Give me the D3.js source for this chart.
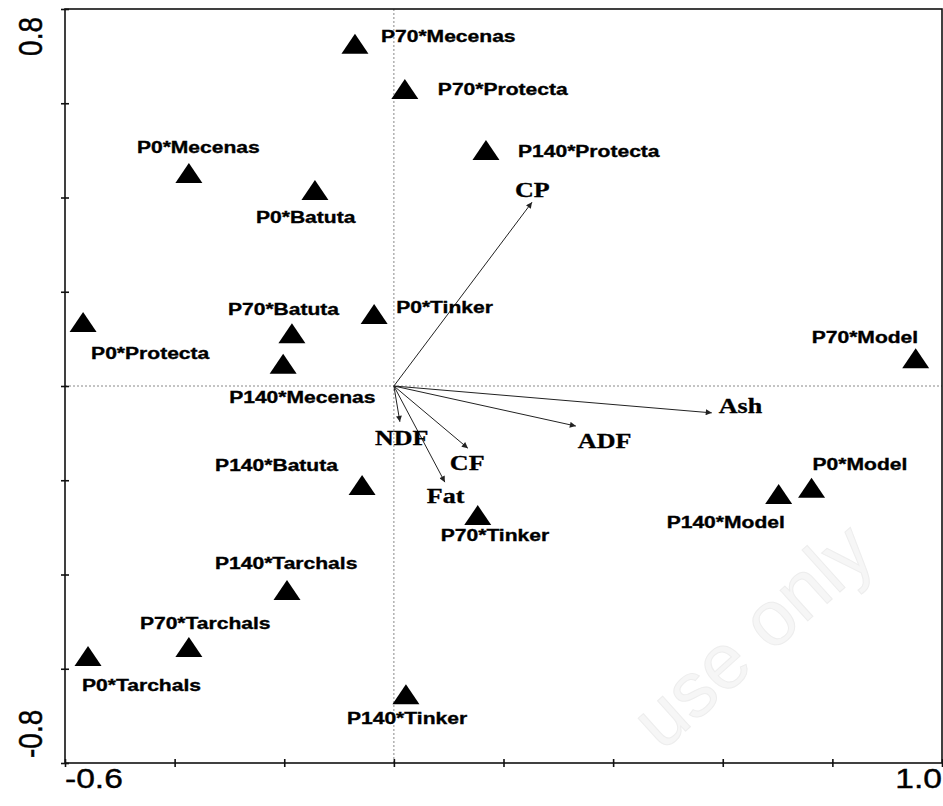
<!DOCTYPE html>
<html>
<head>
<meta charset="utf-8">
<script src="https://cdn.jsdelivr.net/npm/d3@7"></script>
<style>
  body { margin: 0; background: #fff; }
  svg { display: block; }
  .pt-label { font-family: "Liberation Sans", Arial, sans-serif; font-weight: bold; font-size: 17px; fill: #000; stroke: #000; stroke-width: 0.35px; }
  .var-label { font-family: "Liberation Serif", "Times New Roman", serif; font-weight: bold; font-size: 21px; fill: #000; stroke: #000; stroke-width: 0.3px; }
  .tick-label { font-family: "Liberation Sans", Arial, sans-serif; font-size: 28px; fill: #000; stroke: #000; stroke-width: 0.4px; }
</style>
</head>
<body>
<svg width="943" height="806"></svg>
<script>
// treatment scores (axis 1, axis 2)
var treatments = ["P70*Mecenas", "P70*Protecta", "P140*Protecta", "P0*Mecenas", "P0*Batuta",
  "P70*Batuta", "P0*Tinker", "P0*Protecta", "P140*Mecenas", "P70*Model", "P0*Model",
  "P140*Model", "P140*Batuta", "P70*Tinker", "P140*Tarchals", "P70*Tarchals",
  "P0*Tarchals", "P140*Tinker"];
var axis1 = [-0.071, 0.020, 0.168, -0.374, -0.144, -0.186, -0.036, -0.567, -0.202, 0.952,
  0.762, 0.702, -0.058, 0.153, -0.195, -0.374, -0.558, 0.022];
var axis2 = [0.726, 0.630, 0.501, 0.452, 0.416, 0.112, 0.153, 0.136, 0.047, 0.059,
  -0.216, -0.229, -0.210, -0.274, -0.433, -0.554, -0.573, -0.654];

// variable vectors
var variables = ["CP", "Ash", "ADF", "NDF", "CF", "Fat"];
var varX = [0.252, 0.580, 0.332, 0.011, 0.135, 0.093];
var varY = [0.390, -0.057, -0.085, -0.076, -0.132, -0.204];

var xTicks = [-0.6, -0.4, -0.2, 0, 0.2, 0.4, 0.6, 0.8, 1.0];
var yTicks = [-0.8, -0.6, -0.4, -0.2, 0, 0.2, 0.4, 0.6, 0.8];
var xTickLabels = ["-0.6", "1.0"];
var yTickLabels = ["-0.8", "0.8"];

// label placement (offset of text start/baseline from the marker), pixels
var labelPos = {
  "P70*Mecenas": [26, -2], "P70*Protecta": [33, 6], "P140*Protecta": [32, 7],
  "P0*Mecenas": [-52, -20], "P0*Batuta": [-59, 33], "P70*Batuta": [-64, -18],
  "P0*Tinker": [22, -1], "P0*Protecta": [8, 37], "P140*Mecenas": [-54, 39],
  "P70*Model": [-104, -15], "P0*Model": [1, -18], "P140*Model": [-112, 34],
  "P140*Batuta": [-147, -14], "P70*Tinker": [-37, 26], "P140*Tarchals": [-72, -21],
  "P70*Tarchals": [-49, -18], "P0*Tarchals": [-6, 35], "P140*Tinker": [-59, 30],
  "CP": [-17, -5], "Ash": [7, 0], "ADF": [2, 22], "NDF": [-25, 23], "CF": [-18, 22], "Fat": [-18, 21]
};
var stretch = 1.24;

var svg = d3.select("svg");
var x = d3.scaleLinear().domain([-0.6, 1.0]).range([65, 942]);
var y = d3.scaleLinear().domain([-0.8, 0.8]).range([763, 9]);

// watermark
svg.append("text")
  .attr("transform", "translate(770,655) rotate(-42)")
  .attr("text-anchor", "middle")
  .style("font-family", "Liberation Sans, Arial, sans-serif")
  .style("font-size", "78px")
  .style("fill", "#f6f6f6")
  .style("stroke", "#ededed")
  .style("stroke-width", 1)
  .text("use only");

// origin lines
svg.append("line")
  .attr("x1", x(0)).attr("x2", x(0)).attr("y1", y(0.8)).attr("y2", y(-0.8))
  .style("stroke", "#888").style("stroke-width", 1).style("stroke-dasharray", "2,2");
svg.append("line")
  .attr("x1", x(-0.6)).attr("x2", x(1.0)).attr("y1", y(0)).attr("y2", y(0))
  .style("stroke", "#888").style("stroke-width", 1).style("stroke-dasharray", "2,2");

// frame
svg.append("rect")
  .attr("x", x(-0.6)).attr("y", y(0.8))
  .attr("width", x(1.0) - x(-0.6)).attr("height", y(-0.8) - y(0.8))
  .style("fill", "none").style("stroke", "#111").style("stroke-width", 1.6);

// axes (ticks only)
var gx = svg.append("g").attr("transform", "translate(0," + y(-0.8) + ")")
  .call(d3.axisBottom(x).tickValues(xTicks).tickSize(4).tickSizeOuter(0).tickFormat(""));
var gy = svg.append("g").attr("transform", "translate(" + x(-0.6) + ",0)")
  .call(d3.axisLeft(y).tickValues(yTicks).tickSize(4).tickSizeOuter(0).tickFormat(""));
gx.select(".domain").remove();
gy.select(".domain").remove();
gx.selectAll(".tick line").attr("y1", -4).attr("y2", 4).style("stroke", "#111").style("stroke-width", 1.6);
gy.selectAll(".tick line").attr("x1", -4).attr("x2", 4).style("stroke", "#111").style("stroke-width", 1.6);

// end tick labels
svg.append("text").attr("class", "tick-label")
  .attr("transform", "translate(" + x(-0.6) + ",788) scale(1.2,1)")
  .attr("text-anchor", "start").text(xTickLabels[0]);
svg.append("text").attr("class", "tick-label")
  .attr("transform", "translate(" + x(1.0) + ",788) scale(1.2,1)")
  .attr("text-anchor", "end").text(xTickLabels[1]);
svg.append("text").attr("class", "tick-label")
  .attr("transform", "translate(42," + (y(-0.8) - 5) + ") scale(1.2,1) rotate(-90)")
  .attr("text-anchor", "start").text(yTickLabels[0]);
svg.append("text").attr("class", "tick-label")
  .attr("transform", "translate(42," + (y(0.8) + 8) + ") scale(1.2,1) rotate(-90)")
  .attr("text-anchor", "end").text(yTickLabels[1]);

// arrow head
svg.append("defs").append("marker")
  .attr("id", "head").attr("viewBox", "0 0 10 10")
  .attr("refX", 10).attr("refY", 5)
  .attr("markerWidth", 8).attr("markerHeight", 6)
  .attr("markerUnits", "userSpaceOnUse")
  .attr("orient", "auto")
  .append("path").attr("d", "M0,0L10,5L0,10z").style("fill", "#222");

var vars = variables.map(function(v, i) { return { name: v, x: varX[i], y: varY[i] }; });

svg.selectAll("line.vec")
  .data(vars).enter().append("line")
  .attr("class", "vec")
  .attr("x1", x(0)).attr("y1", y(0))
  .attr("x2", function(d) { return x(d.x); })
  .attr("y2", function(d) { return y(d.y); })
  .style("stroke", "#222").style("stroke-width", 1)
  .attr("marker-end", "url(#head)");

svg.selectAll("text.var-label")
  .data(vars).enter().append("text")
  .attr("class", "var-label")
  .attr("transform", function(d) {
    var o = labelPos[d.name];
    return "translate(" + (x(d.x) + o[0]) + "," + (y(d.y) + o[1]) + ") scale(" + stretch + ",1)";
  })
  .text(function(d) { return d.name; });

// treatment points
var pts = treatments.map(function(t, i) { return { name: t, x: axis1[i], y: axis2[i] }; });

svg.selectAll("path.tri")
  .data(pts).enter().append("path")
  .attr("class", "tri")
  .attr("transform", function(d) { return "translate(" + x(d.x) + "," + y(d.y) + ")"; })
  .attr("d", "M0,-10L13.5,10L-13.5,10Z")
  .style("fill", "#000");

svg.selectAll("text.pt-label")
  .data(pts).enter().append("text")
  .attr("class", "pt-label")
  .attr("transform", function(d) {
    var o = labelPos[d.name];
    return "translate(" + (x(d.x) + o[0]) + "," + (y(d.y) + o[1]) + ") scale(" + stretch + ",1)";
  })
  .text(function(d) { return d.name; });
</script>
</body>
</html>
